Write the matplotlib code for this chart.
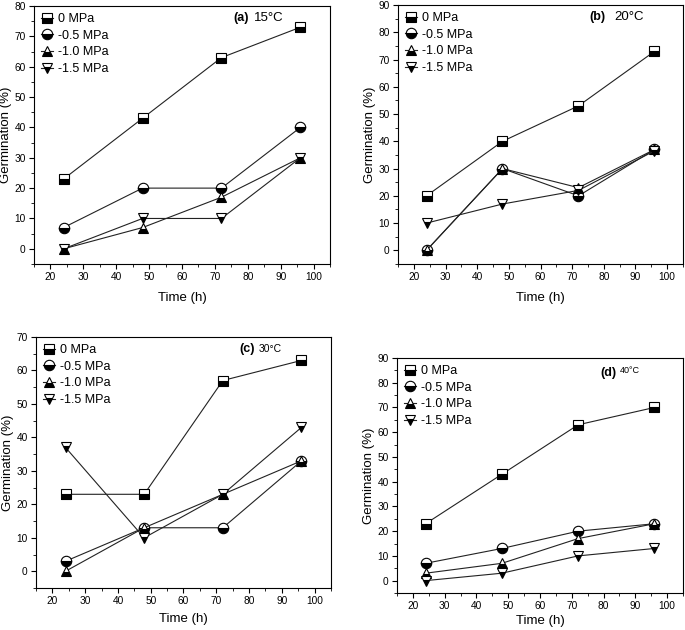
import numpy as np
import matplotlib
matplotlib.use('Agg')
import matplotlib.pyplot as plt
from matplotlib.ticker import MultipleLocator

plt.rcParams['font.family'] = ['Liberation Sans', 'DejaVu Sans']

time_h = [24, 48, 72, 96]
series_labels = ['0 MPa', '-0.5 MPa', '-1.0 MPa', '-1.5 MPa']
markers = ['s', 'o', '^', 'v']

# germination (%) per panel, one list per osmotic potential
g15_0   = [23, 43, 63, 73]
g15_05  = [7, 20, 20, 40]
g15_10  = [0, 7, 17, 30]
g15_15  = [0, 10, 10, 30]

g20_0   = [20, 40, 53, 73]
g20_05  = [0, 30, 20, 37]
g20_10  = [0, 30, 23, 37]
g20_15  = [10, 17, 22, 36.5]

g30_0   = [23, 23, 57, 63]
g30_05  = [3, 13, 13, 33]
g30_10  = [0, 13, 23, 33]
g30_15  = [37, 10, 23, 43]

g40_0   = [23, 43, 63, 70]
g40_05  = [7, 13, 20, 23]
g40_10  = [3, 7, 17, 23]
g40_15  = [0, 3, 10, 13]

panel_tags  = ['(a)', '(b)', '(c)', '(d)']
panel_temps = ['15°C', '20°C', '30°C', '40°C']
panel_ymax  = [80, 90, 70, 90]

panels = [[g15_0, g15_05, g15_10, g15_15],
          [g20_0, g20_05, g20_10, g20_15],
          [g30_0, g30_05, g30_10, g30_15],
          [g40_0, g40_05, g40_10, g40_15]]

W, H = 685., 630.
# axes boxes in pixels: left, top, right, bottom
boxes = [(34, 6, 330, 264),
         (398, 5, 683, 264),
         (36, 337, 331, 588),
         (397, 358, 683, 593)]
# where the panel tag / temperature sit (axes fraction) and temperature size
tag_x   = [0.672, 0.673, 0.688, 0.71]
temp_x  = [0.742, 0.758, 0.756, 0.78]
tag_y   = [0.952, 0.952, 0.951, 0.935]
temp_sz = [9.5, 9.5, 7.5, 6.5]
xlab_pad = [7, 7, 4.5, 2.5]

fig = plt.figure(figsize=(6.85, 6.3), dpi=100)

for k in range(4):
    l, t, r, b = boxes[k]
    ax = fig.add_axes([l/W, 1-b/H, (r-l)/W, (b-t)/H])
    for i in range(4):
        ax.plot(time_h, panels[k][i], color='#222222', lw=0.8,
                marker=markers[i], ms=7.5, fillstyle='bottom',
                markerfacecolor='black', markerfacecoloralt='white',
                markeredgecolor='black', markeredgewidth=0.8,
                label=series_labels[i])
    ax.set_xlim(15, 105)
    ax.set_ylim(-5, panel_ymax[k])
    ax.xaxis.set_major_locator(MultipleLocator(10))
    ax.xaxis.set_minor_locator(MultipleLocator(5))
    ax.yaxis.set_major_locator(MultipleLocator(10))
    ax.yaxis.set_minor_locator(MultipleLocator(5))
    ax.tick_params(which='both', direction='out', labelsize=7.3, top=False, right=False, pad=2.5)
    ax.tick_params(which='major', length=3.5)
    ax.tick_params(which='minor', length=2)
    ax.set_xlabel('Time (h)', fontsize=9.5, labelpad=xlab_pad[k])
    ax.set_ylabel('Germination (%)', fontsize=9.5, labelpad=2)
    ax.legend(loc='upper left', frameon=False, fontsize=9,
              handlelength=1.0, handletextpad=0.4, labelspacing=0.38,
              borderaxespad=0.35, borderpad=0.2)
    ax.text(tag_x[k], tag_y[k], panel_tags[k], transform=ax.transAxes,
            fontsize=9, fontweight='bold', ha='left', va='center')
    if k == 3:
        ax.text(temp_x[k], tag_y[k] + 0.03, panel_temps[k], transform=ax.transAxes,
                fontsize=temp_sz[k], ha='left', va='top')
    else:
        ax.text(temp_x[k], tag_y[k], panel_temps[k], transform=ax.transAxes,
                fontsize=temp_sz[k], ha='left', va='center')

fig.savefig('out.png', dpi=100)
